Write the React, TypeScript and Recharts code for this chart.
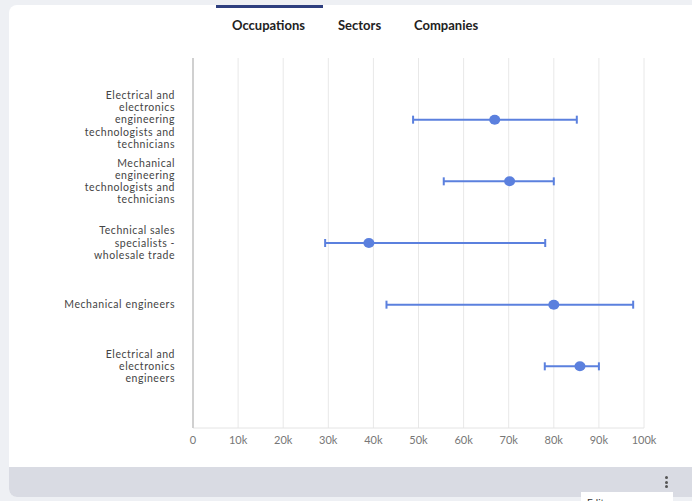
import React from "react";
import {
  ScatterChart,
  Scatter,
  ErrorBar,
  XAxis,
  YAxis,
  CartesianGrid,
} from "recharts";

const occupations: string[][] = [
  ["Electrical and", "electronics", "engineering", "technologists and", "technicians"],
  ["Mechanical", "engineering", "technologists and", "technicians"],
  ["Technical sales", "specialists -", "wholesale trade"],
  ["Mechanical engineers"],
  ["Electrical and", "electronics", "engineers"],
];
const lowSalary = [48800, 55600, 29300, 42900, 78000];
const medianSalary = [66900, 70200, 39000, 80000, 85800];
const highSalary = [85100, 80000, 78100, 97600, 90000];
const xTicks = [0, 10000, 20000, 30000, 40000, 50000, 60000, 70000, 80000, 90000, 100000];
const tabs = ["Occupations", "Sectors", "Companies"];

const BLUE = "#5b80de";
const FONT = "Lato, 'Open Sans', sans-serif";

const rows = occupations.map((lines, i) => ({
  row: i + 1,
  median: medianSalary[i],
  range: [medianSalary[i] - lowSalary[i], highSalary[i] - medianSalary[i]],
}));

const OccupationTick = (props: any) => {
  const { x, y, payload } = props;
  const lines = occupations[payload.value - 1] || [];
  const lh = 12.3;
  const startY = y - ((lines.length - 1) * lh) / 2;
  const tx = x - 10;
  return (
    <text
      x={tx}
      y={startY}
      textAnchor="end"
      fill="#444"
      fontSize={10.5}
      letterSpacing={0.55}
      fontFamily={FONT}
    >
      {lines.map((l, i) => (
        <tspan key={i} x={tx} y={startY + i * lh} dy="0.35em">
          {l}
        </tspan>
      ))}
    </text>
  );
};

const fmt = (v: number) => (v === 0 ? "0" : `${v / 1000}k`);

export default function App() {
  return (
    <div
      style={{
        position: "fixed",
        left: 0,
        top: 0,
        width: 692,
        height: 501,
        background: "#eef0f4",
        overflow: "hidden",
        fontFamily: FONT,
      }}
    >
      <div
        style={{
          position: "absolute",
          left: 9,
          top: 5,
          width: 720,
          height: 492,
          background: "#fff",
          borderRadius: 8,
          overflow: "hidden",
        }}
      >
        <div
          style={{
            position: "absolute",
            left: 0,
            top: 462,
            width: "100%",
            height: 30,
            background: "#d9dbe3",
          }}
        />
      </div>
      <div style={{ position: "absolute", left: 216, top: 5, width: 107, height: 3, background: "#2e3f7f" }} />
      {tabs.map((t, i) => (
        <div
          key={t}
          style={{
            position: "absolute",
            left: [232, 338, 414][i],
            top: 17,
            fontSize: 13,
            fontWeight: 700,
            color: "#222",
          }}
        >
          {t}
        </div>
      ))}
      <div style={{ position: "absolute", left: 665, top: 476 }}>
        {[0, 1, 2].map((d) => (
          <div key={d} style={{ width: 3, height: 3, borderRadius: 2, background: "#555", marginBottom: 1.5 }} />
        ))}
      </div>
      <div
        style={{
          position: "absolute",
          left: 581,
          top: 492,
          width: 92,
          height: 20,
          background: "#fff",
          fontSize: 10,
          color: "#333",
          paddingLeft: 6,
          paddingTop: 4,
          boxSizing: "border-box",
        }}
      >
        Edit
      </div>
      <div style={{ position: "absolute", left: 0, top: 0 }}>
        <ScatterChart width={692} height={470} margin={{ top: 58, right: 48, bottom: 12, left: 0 }}>
          <CartesianGrid horizontal={false} stroke="#e8e8e8" />
          <XAxis
            type="number"
            dataKey="median"
            domain={[0, 100000]}
            ticks={xTicks}
            tickFormatter={fmt}
            tickLine={false}
            axisLine={{ stroke: "#e4e4e4" }}
            tick={{ fill: "#777", fontSize: 11, fontFamily: FONT }}
            height={30}
            interval={0}
          />
          <YAxis
            type="number"
            dataKey="row"
            domain={[0, 6]}
            reversed
            ticks={[1, 2, 3, 4, 5]}
            tick={<OccupationTick />}
            tickLine={false}
            axisLine={{ stroke: "#d0d0d0", strokeWidth: 2 }}
            width={193}
            interval={0}
          />
          <Scatter data={rows} fill={BLUE} isAnimationActive={false} shape={(p: any) => <ellipse cx={p.cx} cy={p.cy} rx={5.5} ry={5} fill={BLUE} />}>
            <ErrorBar dataKey="range" direction="x" stroke={BLUE} strokeWidth={2} width={4} isAnimationActive={false} />
          </Scatter>
        </ScatterChart>
      </div>
    </div>
  );
}
